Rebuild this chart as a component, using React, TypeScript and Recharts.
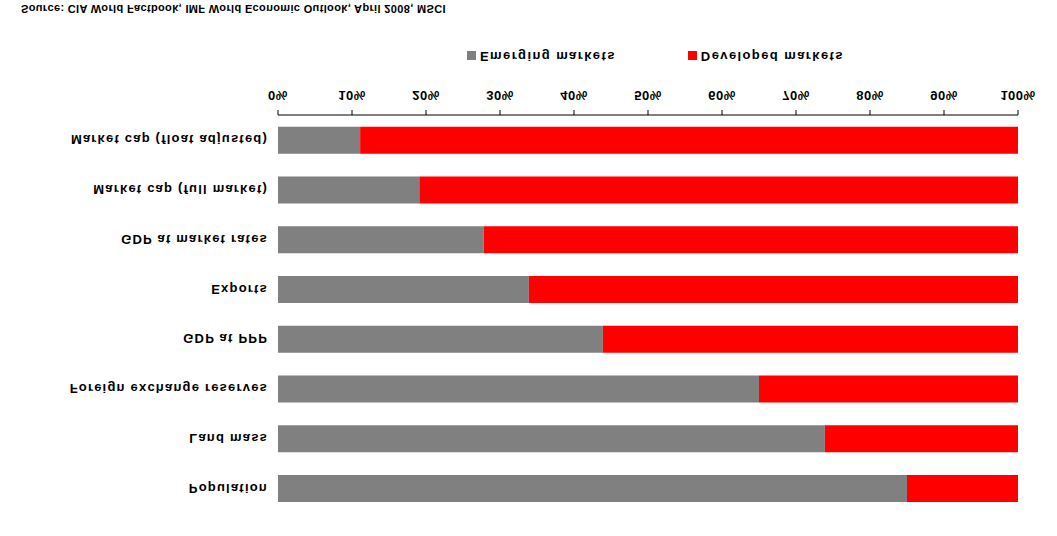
import React from "react";
import { BarChart, Bar, XAxis, YAxis, Legend } from "recharts";

// categories, top to bottom before the picture is turned over
const categories = [
  "Population",
  "Land mass",
  "Foreign exchange reserves",
  "GDP at PPP",
  "Exports",
  "GDP at market rates",
  "Market cap (full market)",
  "Market cap (float adjusted)",
];

// share of the world total, in %
const emerging = [85, 73.9, 65, 43.9, 33.9, 27.8, 19.1, 11.1];
const developed = [15, 26.1, 35, 56.1, 66.1, 72.2, 80.9, 88.9];

const xTicks = [0, 10, 20, 30, 40, 50, 60, 70, 80, 90, 100];

const source = "Source: CIA World Factbook, IMF World Economic Outlook, April 2008, MSCI";

const font = "'Liberation Sans', Arial, sans-serif";

const data = categories.map((name, i) => ({
  name,
  emerging: emerging[i],
  developed: developed[i],
}));

export default function App() {
  return (
    <div
      style={{
        position: "absolute",
        left: 0,
        top: 0,
        width: 1057,
        height: 536,
        background: "#fff",
        transform: "scaleY(-1)",
        fontFamily: font,
      }}
    >
      <BarChart
        width={1057}
        height={536}
        data={data}
        layout="vertical"
        margin={{ top: 23, right: 39, left: 0, bottom: 71 }}
      >
        <XAxis
          type="number"
          domain={[0, 100]}
          ticks={xTicks}
          tickFormatter={(v) => `${v}%`}
          tick={{ fontSize: 13, fontWeight: "bold", fill: "#000", fontFamily: font, letterSpacing: 0.5 }}
          axisLine={{ stroke: "#000" }}
          tickLine={{ stroke: "#000" }}
          tickSize={5}
          tickMargin={10}
          height={30}
          interval={0}
        />
        <YAxis
          type="category"
          dataKey="name"
          width={278}
          axisLine={false}
          tickLine={false}
          tickSize={6}
          tickMargin={4}
          interval={0}
          tick={{ fontSize: 13, fontWeight: "bold", fill: "#000", fontFamily: font, letterSpacing: 1.2 }}
        />
        <Legend
          iconType="square"
          iconSize={9}
          itemSorter={(item) => (item.dataKey === "emerging" ? 0 : 1)}
          wrapperStyle={{
            position: "absolute",
            left: 467,
            top: 473,
            width: "auto",
            fontSize: 13,
            fontWeight: "bold",
            lineHeight: "14px",
            fontFamily: font,
          }}
          formatter={(value) => (
            <span style={{ color: "#000", letterSpacing: 1.4, paddingRight: 62 }}>{value}</span>
          )}
        />
        <Bar
          dataKey="emerging"
          name="Emerging markets"
          stackId="a"
          fill="#808080"
          barSize={27}
          isAnimationActive={false}
        />
        <Bar
          dataKey="developed"
          name="Developed markets"
          stackId="a"
          fill="#ff0000"
          barSize={27}
          isAnimationActive={false}
        />
      </BarChart>
      <div
        style={{
          position: "absolute",
          left: 21,
          top: 522,
          fontSize: 11,
          lineHeight: "11px",
          fontWeight: "bold",
          letterSpacing: 0.35,
          color: "#000",
          whiteSpace: "nowrap",
        }}
      >
        {source}
      </div>
    </div>
  );
}
